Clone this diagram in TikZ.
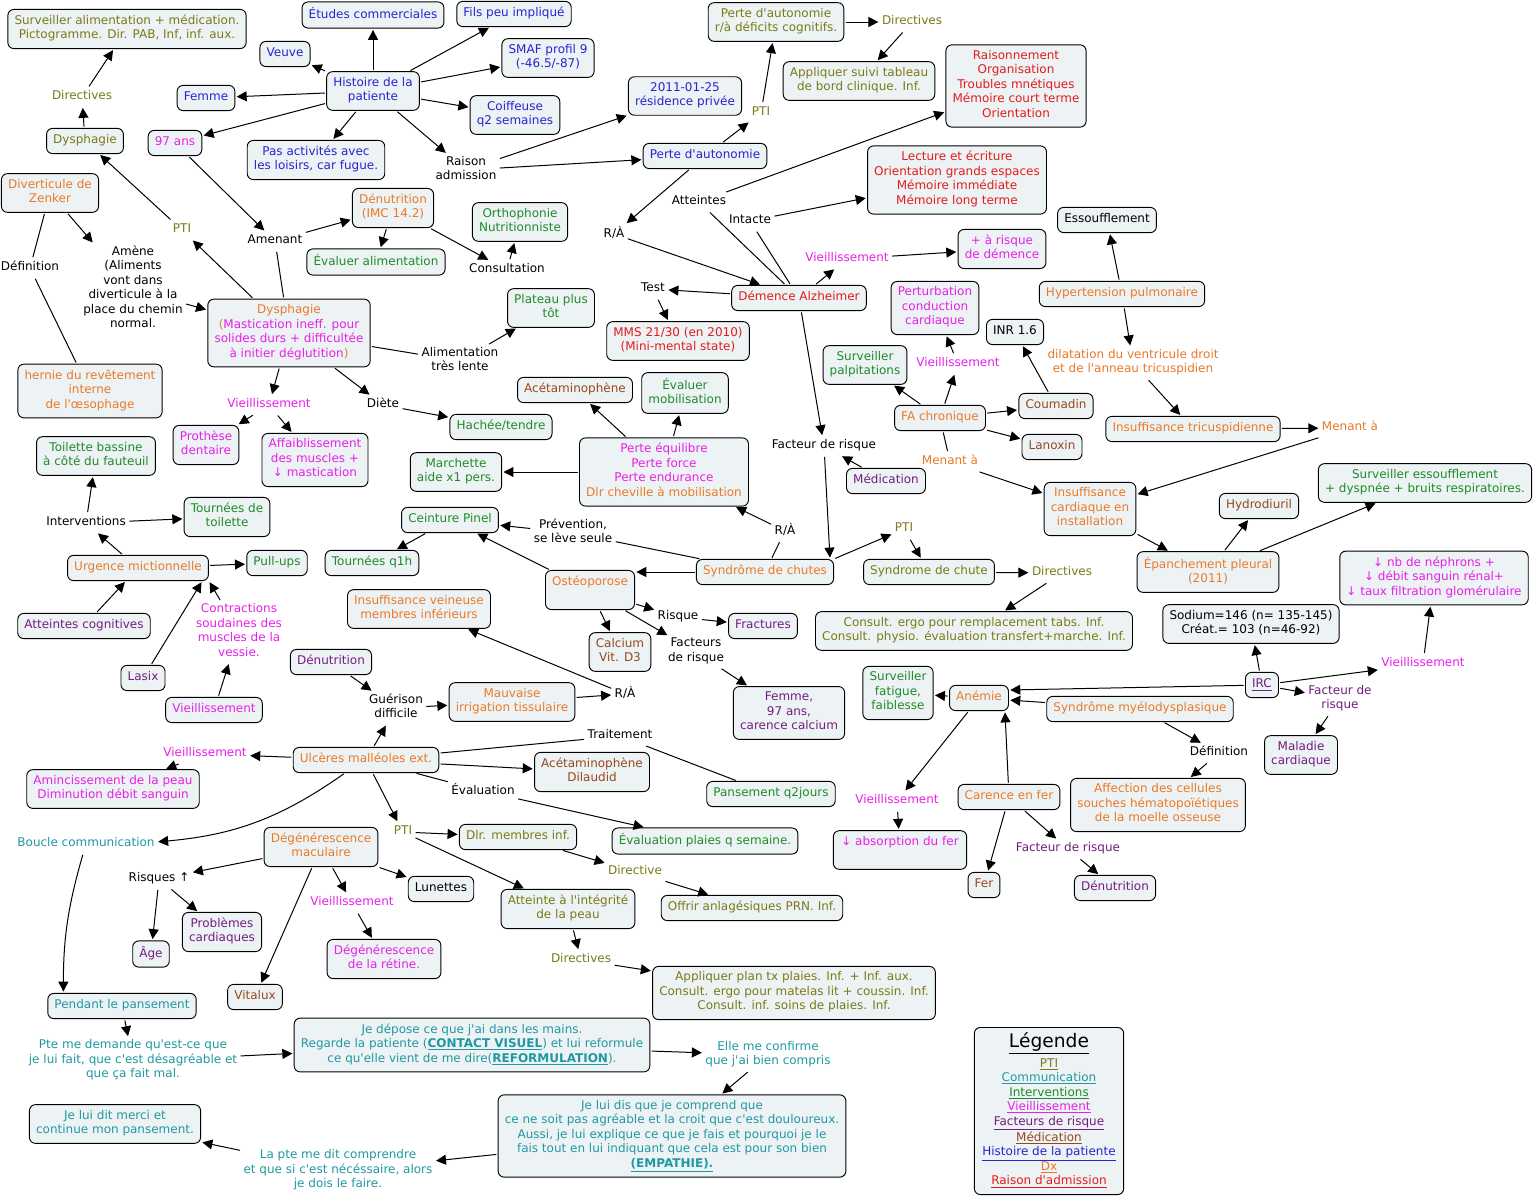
\documentclass[tikz,border=0pt]{standalone}
\usepackage{fontspec}
\setmainfont{DejaVu Sans}[Ligatures=TeXOff]
\usetikzlibrary{arrows.meta}
\definecolor{cmfill}{RGB}{237,243,244}
\definecolor{cmblue}{RGB}{36,36,210}
\definecolor{cmolive}{RGB}{122,122,24}
\definecolor{cmorange}{RGB}{233,122,40}
\definecolor{cmmagenta}{RGB}{232,32,232}
\definecolor{cmgreen}{RGB}{32,138,40}
\definecolor{cmpurple}{RGB}{116,28,128}
\definecolor{cmbrown}{RGB}{150,72,28}
\definecolor{cmred}{RGB}{226,28,28}
\definecolor{cmteal}{RGB}{32,152,162}
\newcommand{\cmsize}{\fontsize{9}{10.9}\selectfont}

\begin{document}
\begin{tikzpicture}[x=0.75pt,y=-0.75pt,font=\cmsize,
    execute at begin node=\strut, execute at end node=\strut,
    concept/.style={rectangle,rounded corners=4.5pt,draw=black,line width=0.7pt,
      fill=cmfill,align=center,inner xsep=5pt,inner ysep=4pt},
    phrase/.style={align=center,inner sep=1.5pt},
    c_hist/.style={text=cmblue}, c_pti/.style={text=cmolive},
    c_dx/.style={text=cmorange}, c_vieil/.style={text=cmmagenta},
    c_interv/.style={text=cmgreen}, c_risk/.style={text=cmpurple},
    c_med/.style={text=cmbrown}, c_adm/.style={text=cmred},
    c_comm/.style={text=cmteal},
    link_arrow/.style={
           -{Triangle[length=7.5pt,width=7.5pt]},
           line width=0.75pt,
           shorten <=1pt,
           shorten >=1pt},
    link_line/.style={line width=0.75pt,shorten <=1pt,shorten >=1pt}]

  \path[use as bounding box,fill=white] (0,0) rectangle (1536,1197);

  % dysphagie / zenker
  \path (127,29) node(survalim) [concept,c_pti] {Surveiller alimentation + médication.\\Pictogramme. Dir. PAB, Inf, inf. aux.}
  (82,97) node(dir1) [phrase,c_pti] {Directives}
  (85,141) node(dysph1) [concept,c_pti] {Dysphagie}
  (50,193) node(zenker) [concept,c_dx] {Diverticule de\\Zenker}
  (30,268) node(def1) [phrase] {Définition}
  (133,289) node(amene) [phrase] {Amène\\(Aliments\\vont dans\\diverticule à la\\place du chemin\\normal.}
  (90,391) node(hernie) [concept,c_dx] {hernie du revêtement\\interne\\de l'œsophage}
  (182,230) node(pti1) [phrase,c_pti] {PTI}
  (289,333) node(dysph2) [concept,c_vieil] {{\color{cmorange}Dysphagie}\\{\color{cmorange}(}Mastication ineff. pour\\solides durs + difficultée\\à initier déglutition{\color{cmorange})}};

  % histoire de la patiente
  \path (373,91) node(hist) [concept,c_hist] {Histoire de la\\patiente}
  (285,54) node(veuve) [concept,c_hist] {Veuve}
  (373,15) node(etudes) [concept,c_hist] {Études commerciales}
  (514,14) node(fils) [concept,c_hist] {Fils peu impliqué}
  (548,58) node(smaf) [concept,c_hist] {SMAF profil 9\\(-46.5/-87)}
  (515,115) node(coif) [concept,c_hist] {Coiffeuse\\q2 semaines}
  (206,98) node(femme) [concept,c_hist] {Femme}
  (175,143) node(age97) [concept,c_vieil] {97 ans}
  (316,160) node(loisirs) [concept,c_hist] {Pas activités avec\\les loisirs, car fugue.}
  (466,170) node(raison) [phrase] {Raison\\admission}
  (685,96) node(date) [concept,c_hist] {2011-01-25\\résidence privée}
  (705,156) node(pauto) [concept,c_hist] {Perte d'autonomie};

  \path (275,241) node(amenant) [phrase] {Amenant}
  (393,208) node(denut1) [concept,c_dx] {Dénutrition\\(IMC 14.2)}
  (376,262) node(evalim) [concept,c_interv] {Évaluer alimentation}
  (520,222) node(ortho) [concept,c_interv] {Orthophonie\\Nutritionniste}
  (507,270) node(consult) [phrase] {Consultation}
  (460,361) node(lente) [phrase] {Alimentation\\très lente}
  (551,308) node(plateau) [concept,c_interv] {Plateau plus\\tôt}
  (269,405) node(vieil1) [phrase,c_vieil] {Vieillissement}
  (383,405) node(diete) [phrase] {Diète}
  (501,427) node(hachee) [concept,c_interv] {Hachée/tendre}
  (206,445) node(prothese) [concept,c_vieil] {Prothèse\\dentaire}
  (315,460) node(muscles) [concept,c_vieil] {Affaiblissement\\des muscles +\\↓ mastication};

  % urgence mictionnelle
  \path (96,456) node(bassine) [concept,c_interv] {Toilette bassine\\à côté du fauteuil}
  (86,523) node(interv) [phrase] {Interventions}
  (227,517) node(tournees) [concept,c_interv] {Tournées de\\toilette}
  (138,568) node(urgence) [concept,c_dx] {Urgence mictionnelle}
  (277,563) node(pullups) [concept,c_interv] {Pull-ups}
  (84,626) node(cogn) [concept,c_risk] {Atteintes cognitives}
  (143,678) node(lasix) [concept,c_risk] {Lasix}
  (239,632) node(vessie) [phrase,c_vieil] {Contractions\\soudaines des\\muscles de la\\vessie.}
  (214,710) node(vieil2) [concept,c_vieil] {Vieillissement};

  % chutes
  \path (456,472) node(marchette) [concept,c_interv] {Marchette\\aide x1 pers.}
  (450,520) node(pinel) [concept,c_interv] {Ceinture Pinel}
  (372,563) node(q1h) [concept,c_interv] {Tournées q1h}
  (575,390) node(acet1) [concept,c_med] {Acétaminophène}
  (685,393) node(evalmob) [concept,c_interv] {Évaluer\\mobilisation}
  (664,472) node(equil) [concept,c_vieil] {Perte équilibre\\Perte force\\Perte endurance\\{\color{cmorange}Dlr cheville à mobilisation}}
  (573,533) node(prevent) [phrase] {Prévention,\\se lève seule}
  (785,531) node(ra3) [phrase] {R/À}
  (765,572) node(chutes) [concept,c_dx] {Syndrôme de chutes}
  (590,590) node(osteo) [concept,c_dx] {Ostéoporose\\\mbox{}}
  (620,652) node(calcium) [concept,c_med] {Calcium\\Vit. D3}
  (678,617) node(risque) [phrase] {Risque}
  (763,626) node(fract) [concept,c_risk] {Fractures}
  (696,652) node(fdr2) [phrase] {Facteurs\\de risque}
  (789,713) node(femme97) [concept,c_risk] {Femme,\\97 ans,\\carence calcium}
  (824,446) node(fdr1) [phrase] {Facteur de risque}
  (886,481) node(medic) [concept,c_risk] {Médication}
  (904,529) node(pti4) [phrase,c_pti] {PTI}
  (929,572) node(chute2) [concept,c_pti] {Syndrome de chute}
  (1062,573) node(dir4) [phrase,c_pti] {Directives}
  (974,631) node(ergo) [concept,c_pti] {Consult. ergo pour remplacement tabs. Inf.\\Consult. physio. évaluation transfert+marche. Inf.};

  % ulceres
  \path (419,609) node(veineuse) [concept,c_dx] {Insuffisance veineuse\\membres inférieurs}
  (331,662) node(denut2) [concept,c_risk] {Dénutrition}
  (396,708) node(guerison) [phrase] {Guérison\\difficile}
  (512,702) node(irrig) [concept,c_dx] {Mauvaise\\irrigation tissulaire}
  (625,694) node(ra2) [phrase] {R/À}
  (366,760) node(ulceres) [concept,c_dx] {Ulcères malléoles ext.}
  (205,754) node(vieil3) [phrase,c_vieil] {Vieillissement}
  (113,789) node(peau) [concept,c_vieil] {Amincissement de la peau\\Diminution débit sanguin}
  (620,736) node(trait) [phrase] {Traitement}
  (592,772) node(dilaudid) [concept,c_med] {Acétaminophène\\Dilaudid}
  (771,794) node(pans) [concept,c_interv] {Pansement q2jours}
  (483,791) node(evalu) [phrase] {Évaluation}
  (705,841) node(plaies) [concept,c_interv] {Évaluation plaies q semaine.}
  (403,832) node(pti2) [phrase,c_pti] {PTI}
  (518,837) node(dlr) [concept,c_pti] {Dlr. membres inf.}
  (635,872) node(directive) [phrase,c_pti] {Directive}
  (752,908) node(offrir) [concept,c_pti] {Offrir anlagésiques PRN. Inf.}
  (568,909) node(integ) [concept,c_pti] {Atteinte à l'intégrité\\de la peau}
  (581,960) node(dir3) [phrase,c_pti] {Directives}
  (794,993) node(plan) [concept,c_pti] {Appliquer plan tx plaies. Inf. + Inf. aux.\\Consult. ergo pour matelas lit + coussin. Inf.\\Consult. inf. soins de plaies. Inf.};

  % degenerescence maculaire
  \path (321,847) node(macul) [concept,c_dx] {Dégénérescence\\maculaire}
  (159,879) node(risques) [phrase] {Risques ↑}
  (151,954) node(agenode) [concept,c_risk] {Âge}
  (222,932) node(cardio) [concept,c_risk] {Problèmes\\cardiaques}
  (352,903) node(vieil4) [phrase,c_vieil] {Vieillissement}
  (384,959) node(retine) [concept,c_vieil] {Dégénérescence\\de la rétine.}
  (441,889) node(lunettes) [concept] {Lunettes}
  (255,997) node(vitalux) [concept,c_med] {Vitalux};

  % boucle communication
  \path (86,844) node(boucle) [phrase,c_comm] {Boucle communication}
  (122,1006) node(pendant) [concept,c_comm] {Pendant le pansement}
  (133,1061) node(demande) [phrase,c_comm] {Pte me demande qu'est-ce que\\je lui fait, que c'est désagréable et\\que ça fait mal.}
  (472,1045) node(depose) [concept,c_comm] {Je dépose ce que j'ai dans les mains.\\Regarde la patiente (\underline{\textbf{CONTACT VISUEL}}) et lui reformule\\ce qu'elle vient de me dire(\underline{\textbf{REFORMULATION}}).}
  (768,1055) node(confirme) [phrase,c_comm] {Elle me confirme\\que j'ai bien compris}
  (672,1136) node(empathie) [concept,c_comm] {Je lui dis que je comprend que\\ce ne soit pas agréable et la croit que c'est douloureux.\\Aussi, je lui explique ce que je fais et pourquoi je le\\fais tout en lui indiquant que cela est pour son bien\\\underline{\textbf{(EMPATHIE).}}}
  (338,1171) node(comprendre) [phrase,c_comm] {La pte me dit comprendre\\et que si c'est nécéssaire, alors\\je dois le faire.}
  (115,1124) node(merci) [concept,c_comm] {Je lui dit merci et\\continue mon pansement.};

  % demence
  \path (776,22) node(pautocog) [concept,c_pti] {Perte d'autonomie\\r/à déficits cognitifs.}
  (761,113) node(pti3) [phrase,c_pti] {PTI}
  (912,22) node(dir2) [phrase,c_pti] {Directives}
  (859,81) node(suivi) [concept,c_pti] {Appliquer suivi tableau\\de bord clinique. Inf.}
  (1016,86) node(raisonn) [concept,c_adm] {Raisonnement\\Organisation\\Troubles mnétiques\\Mémoire court terme\\Orientation}
  (957,180) node(lecture) [concept,c_adm] {Lecture et écriture\\Orientation grands espaces\\Mémoire immédiate\\Mémoire long terme}
  (699,202) node(atteintes) [phrase] {Atteintes}
  (750,221) node(intacte) [phrase] {Intacte}
  (614,234) node(ra1) [phrase] {R/À}
  (847,259) node(vieil5) [phrase,c_vieil] {Vieillissement}
  (1002,249) node(demrisk) [concept,c_vieil] {+ à risque\\de démence}
  (653,289) node(test) [phrase] {Test}
  (799,298) node(demence) [concept,c_adm] {Démence Alzheimer}
  (678,341) node(mms) [concept,c_adm] {MMS 21/30 (en 2010)\\(Mini-mental state)};

  % coeur
  \path (935,308) node(conduct) [concept,c_vieil] {Perturbation\\conduction\\cardiaque}
  (1015,332) node(inr) [concept] {INR 1.6}
  (865,365) node(palpit) [concept,c_interv] {Surveiller\\palpitations}
  (958,364) node(vieil8) [phrase,c_vieil] {Vieillissement}
  (940,418) node(fa) [concept,c_dx] {FA chronique}
  (1056,406) node(coumadin) [concept,c_med] {Coumadin}
  (1052,447) node(lanoxin) [concept,c_med] {Lanoxin}
  (950,462) node(menant2) [phrase,c_dx] {Menant à}
  (1107,220) node(essouf) [concept] {Essoufflement}
  (1122,294) node(hyperp) [concept,c_dx] {Hypertension pulmonaire}
  (1133,363) node(dilat) [phrase,c_dx] {dilatation du ventricule droit\\et de l'anneau tricuspidien}
  (1193,429) node(tricusp) [concept,c_dx] {Insuffisance tricuspidienne}
  (1350,428) node(menant1) [phrase,c_dx] {Menant à}
  (1090,509) node(icard) [concept,c_dx] {Insuffisance\\cardiaque en\\installation}
  (1259,506) node(hydro) [concept,c_med] {Hydrodiuril}
  (1425,483) node(survess) [concept,c_interv] {Surveiller essoufflement\\+ dyspnée + bruits respiratoires.}
  (1208,572) node(epanch) [concept,c_dx] {Épanchement pleural\\(2011)};

  % IRC, anemie
  \path (1434,578) node(nephr) [concept,c_vieil] {↓ nb de néphrons +\\↓ débit sanguin rénal+\\↓ taux filtration glomérulaire}
  (1251,624) node(sodium) [concept] {Sodium=146 (n= 135-145)\\Créat.= 103 (n=46-92)}
  (1262,685) node(irc) [concept,c_risk] {\underline{IRC}}
  (1423,664) node(vieil6) [phrase,c_vieil] {Vieillissement}
  (1340,699) node(fdr3) [phrase,c_risk] {Facteur de\\risque}
  (1301,755) node(maladie) [concept,c_risk] {Maladie\\cardiaque}
  (1140,709) node(myelo) [concept,c_dx] {Syndrôme myélodysplasique}
  (1219,753) node(def2) [phrase] {Définition}
  (1158,805) node(affect) [concept,c_dx] {Affection des cellules\\souches hématopoïétiques\\de la moelle osseuse}
  (898,693) node(fatigue) [concept,c_interv] {Surveiller\\fatigue,\\faiblesse}
  (979,698) node(anemie) [concept,c_dx] {Anémie}
  (897,801) node(vieil7) [phrase,c_vieil] {Vieillissement}
  (900,850) node(absorb) [concept,c_vieil,minimum width=100pt] {↓ absorption du fer\\\mbox{}}
  (1009,797) node(carence) [concept,c_dx] {Carence en fer}
  (984,885) node(fer) [concept,c_med] {Fer}
  (1068,849) node(fdr4) [phrase,c_risk] {Facteur de risque}
  (1115,888) node(denut3) [concept,c_risk] {Dénutrition};

  \path (1049,1111) node(legende) [concept,minimum width=112pt] {{\fontsize{14}{15}\selectfont\underline{Légende}}\\[2pt]
    {\color{cmolive}\underline{PTI}}\\{\color{cmteal}\underline{Communication}}\\
    {\color{cmgreen}\underline{Interventions}}\\{\color{cmmagenta}\underline{Vieillissement}}\\
    {\color{cmpurple}\underline{Facteurs de risque}}\\{\color{cmbrown}\underline{Médication}}\\
    {\color{cmblue}\underline{Histoire de la patiente}}\\{\color{cmorange}\underline{Dx}}\\
    {\color{cmred}\underline{Raison d'admission}}};

  \path (dysph1) edge[link_arrow] (dir1)
  (dir1) edge[link_arrow] (survalim)
  (dysph2) edge[link_arrow] (pti1)
  (pti1) edge[link_arrow] (dysph1)
  (zenker) edge[link_arrow] (amene)
  (amene) edge[link_arrow] (dysph2)
  (zenker) edge[link_line] (def1)
  (def1) edge[link_line] (hernie)
  (hist) edge[link_arrow] (veuve)
  (hist) edge[link_arrow] (etudes)
  (hist) edge[link_arrow] (fils)
  (hist) edge[link_arrow] (smaf)
  (hist) edge[link_arrow] (coif)
  (hist) edge[link_arrow] (femme)
  (hist) edge[link_arrow] (age97)
  (hist) edge[link_arrow] (loisirs)
  (hist) edge[link_arrow] (raison)
  (raison) edge[link_arrow] (date)
  (raison) edge[link_arrow] (pauto)
  (age97) edge[link_arrow] (amenant)
  (dysph2) edge[link_line] (amenant)
  (amenant) edge[link_arrow] (denut1)
  (denut1) edge[link_arrow] (evalim)
  (denut1) edge[link_arrow] (consult)
  (consult) edge[link_arrow] (ortho)
  (dysph2) edge[link_line] (lente)
  (lente) edge[link_arrow] (plateau)
  (dysph2) edge[link_arrow] (vieil1)
  (dysph2) edge[link_arrow] (diete)
  (diete) edge[link_arrow] (hachee)
  (vieil1) edge[link_arrow] (prothese)
  (vieil1) edge[link_arrow] (muscles)
  ;

  \path (pauto) edge[link_arrow] (pti3)
  (pti3) edge[link_arrow] (pautocog)
  (pautocog) edge[link_arrow] (dir2)
  (dir2) edge[link_arrow] (suivi)
  (pauto) edge[link_arrow] (ra1)
  (ra1) edge[link_arrow] (demence)
  (demence) edge[link_line] (atteintes)
  (atteintes) edge[link_arrow] (raisonn)
  (demence) edge[link_line] (intacte)
  (intacte) edge[link_arrow] (lecture)
  (demence) edge[link_arrow] (vieil5)
  (vieil5) edge[link_arrow] (demrisk)
  (demence) edge[link_arrow] (test)
  (test) edge[link_arrow] (mms)
  (demence) edge[link_arrow] (fdr1)
  (medic) edge[link_arrow] (fdr1)
  (fdr1) edge[link_arrow] ([xshift=-3pt]chutes.north east)
  (chutes.north east) edge[link_arrow] (pti4)
  (pti4) edge[link_arrow] (chute2)
  (chute2) edge[link_arrow] (dir4)
  (dir4) edge[link_arrow] (ergo)
  (chutes) edge[link_line] (ra3)
  (ra3) edge[link_arrow] (equil)
  (chutes) edge[link_line] (prevent)
  (prevent) edge[link_arrow] (pinel)
  (osteo) edge[link_arrow] (pinel)
  (pinel) edge[link_arrow] (q1h)
  (chutes) edge[link_arrow] (osteo.east |- chutes.west)
  (osteo) edge[link_arrow] (calcium)
  (osteo) edge[link_arrow] (risque)
  (risque) edge[link_arrow] (fract)
  (osteo) edge[link_arrow] (fdr2)
  (fdr2) edge[link_arrow] (femme97)
  (equil) edge[link_arrow] (acet1)
  (equil) edge[link_arrow] (evalmob)
  (equil) edge[link_arrow] (marchette)
  ;

  \path (urgence) edge[link_arrow] (interv)
  (interv) edge[link_arrow] (bassine)
  (interv) edge[link_arrow] (tournees)
  (urgence) edge[link_arrow] (pullups)
  (cogn) edge[link_arrow] (urgence)
  (lasix) edge[link_arrow] ([xshift=-5pt]urgence.south east)
  (vessie) edge[link_arrow] (urgence.south east)
  (vieil2) edge[link_arrow] (vessie)
  ;

  \path (denut2) edge[link_arrow] (guerison)
  (ulceres) edge[link_arrow] (guerison)
  (guerison) edge[link_arrow] (irrig)
  (irrig) edge[link_arrow] (ra2)
  (ra2) edge[link_arrow] (veineuse)
  (ulceres) edge[link_arrow] (vieil3)
  (vieil3) edge[link_arrow] (peau)
  (ulceres) edge[link_line] (trait)
  (trait) edge[link_line] (pans)
  (ulceres) edge[link_arrow] (dilaudid)
  (ulceres) edge[link_line] (evalu)
  (evalu) edge[link_arrow] (plaies)
  (ulceres) edge[link_arrow] (pti2)
  (pti2) edge[link_arrow] (dlr)
  (pti2) edge[link_arrow] (integ)
  (dlr) edge[link_arrow] (directive)
  (directive) edge[link_arrow] (offrir)
  (integ) edge[link_arrow] (dir3)
  (dir3) edge[link_arrow] (plan)
  (ulceres) edge[link_arrow,bend left=15] (boucle)
  (boucle) edge[link_arrow,bend right=8] ([xshift=12pt]pendant.north west)
  (pendant) edge[link_arrow] (demande)
  (demande) edge[link_arrow] (depose)
  (depose) edge[link_arrow] (confirme)
  (confirme) edge[link_arrow] (empathie)
  (empathie) edge[link_arrow] (comprendre)
  (comprendre) edge[link_arrow] (merci)
  (macul) edge[link_arrow] (risques)
  (risques) edge[link_arrow] (agenode)
  (risques) edge[link_arrow] (cardio)
  (macul) edge[link_arrow] (vitalux)
  (macul) edge[link_arrow] (vieil4)
  (vieil4) edge[link_arrow] (retine)
  (macul) edge[link_arrow] (lunettes)
  ;

  \path (fa) edge[link_arrow] (palpit)
  (fa) edge[link_arrow] (vieil8)
  (vieil8) edge[link_arrow] (conduct)
  (fa) edge[link_arrow] (coumadin)
  (coumadin) edge[link_arrow] (inr)
  (fa) edge[link_arrow] (lanoxin)
  (fa) edge[link_line] (menant2)
  (menant2) edge[link_arrow] (icard)
  (hyperp) edge[link_arrow] (essouf)
  (hyperp) edge[link_arrow] (dilat)
  (dilat) edge[link_arrow] (tricusp)
  (tricusp) edge[link_arrow] (menant1)
  (menant1) edge[link_arrow] (icard)
  (icard) edge[link_arrow] (epanch)
  (epanch) edge[link_arrow] (hydro)
  (epanch) edge[link_arrow] (survess)
  (irc) edge[link_arrow] (sodium)
  (irc) edge[link_arrow] (vieil6)
  (vieil6) edge[link_arrow] (nephr)
  (irc) edge[link_arrow] (fdr3)
  (fdr3) edge[link_arrow] (maladie)
  (irc) edge[link_arrow] ([yshift=6pt]anemie.east)
  (myelo) edge[link_arrow] (anemie)
  (myelo) edge[link_arrow] (def2)
  (def2) edge[link_arrow] (affect)
  (anemie) edge[link_arrow] (fatigue)
  (anemie) edge[link_arrow] (vieil7)
  (vieil7) edge[link_arrow] (absorb)
  (carence) edge[link_arrow] ([xshift=-3pt]anemie.south east)
  (carence) edge[link_arrow] (fer)
  (carence) edge[link_arrow] (fdr4)
  (fdr4) edge[link_arrow] (denut3)
  ;

\end{tikzpicture}
\end{document}
